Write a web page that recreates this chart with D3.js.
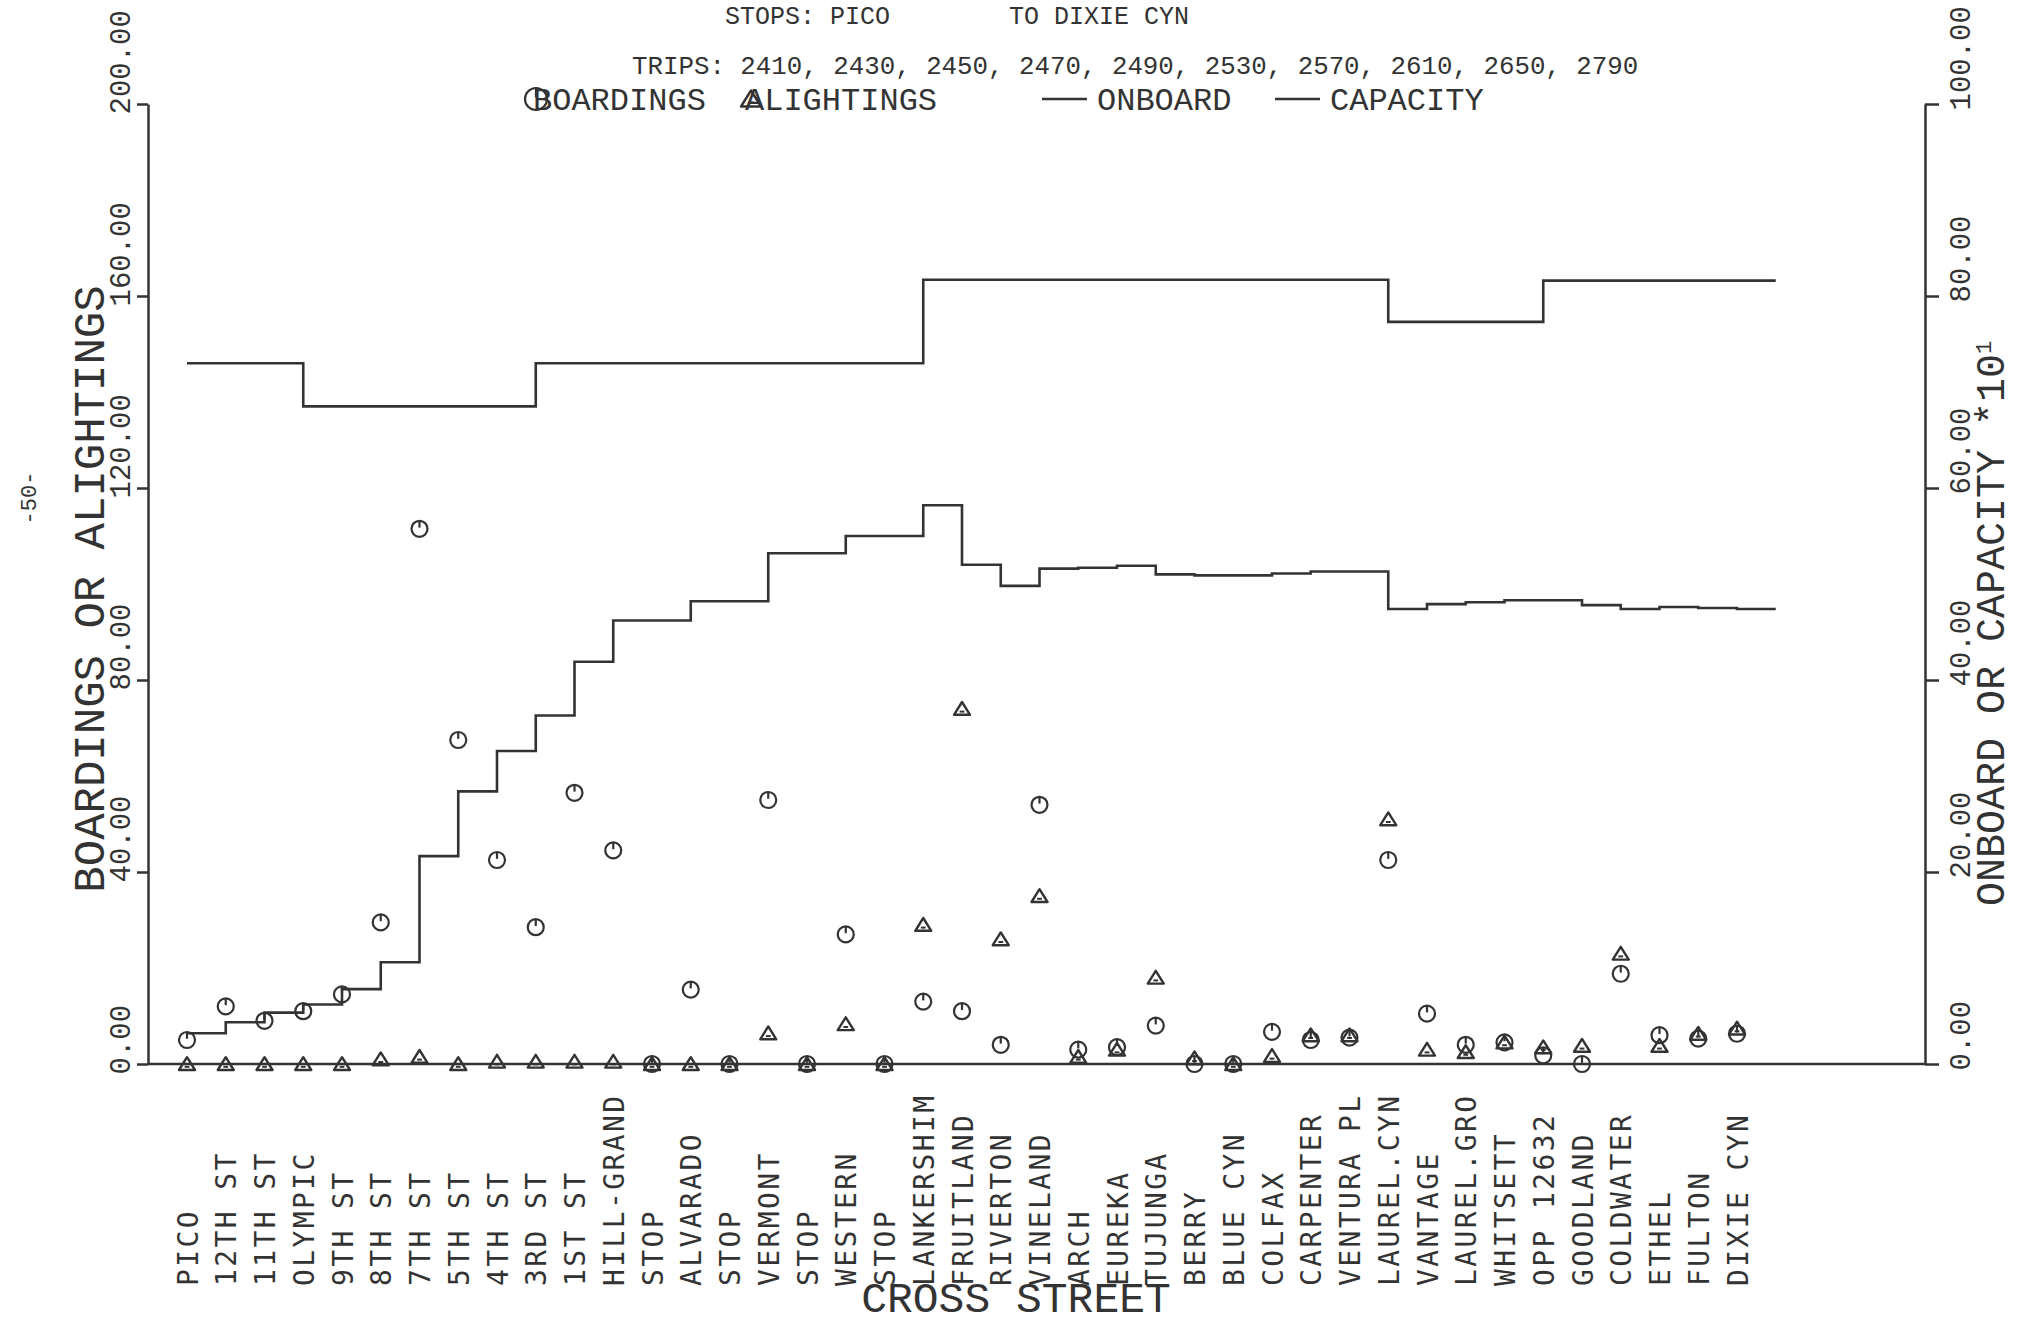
<!DOCTYPE html>
<html>
<head>
<meta charset="utf-8">
<script src="https://cdn.jsdelivr.net/npm/d3@7"></script>
<style>
  body { margin: 0; background: white; }
  svg { display: block; }
</style>
</head>
<body>
<div id="chart-area"></div>
<script>
// stations along the route (cross streets)
var stations = ["PICO", "12TH ST", "11TH ST", "OLYMPIC", "9TH ST", "8TH ST", "7TH ST", "5TH ST",
  "4TH ST", "3RD ST", "1ST ST", "HILL-GRAND", "STOP", "ALVARADO", "STOP", "VERMONT", "STOP",
  "WESTERN", "STOP", "LANKERSHIM", "FRUITLAND", "RIVERTON", "VINELAND", "ARCH", "EUREKA",
  "TUJUNGA", "BERRY", "BLUE CYN", "COLFAX", "CARPENTER", "VENTURA PL", "LAUREL.CYN", "VANTAGE",
  "LAUREL.GRO", "WHITSETT", "OPP 12632", "GOODLAND", "COLDWATER", "ETHEL", "FULTON", "DIXIE CYN"];

// left axis values
var boardings = [5, 12, 9, 11, 14.5, 29.5, 111.5, 67.5, 42.5, 28.5, 56.5, 44.5, 0, 15.5, 0, 55, 0,
  27, 0, 13, 11, 4, 54, 3, 3.5, 8, 0, 0, 6.7, 5, 5.5, 42.5, 10.5, 4, 4.5, 1.8, 0, 18.8, 6, 5.3, 6.3];
var alightings = [0, 0, 0, 0, 0, 1, 1.5, 0, 0.5, 0.5, 0.5, 0.5, 0, 0, 0, 6.4, 0, 8.3, 0, 29, 74, 26,
  35, 1.5, 3, 18, 1.2, 0, 1.7, 6, 6, 51, 3, 2.5, 4.5, 3.5, 3.8, 23, 3.8, 6.3, 7.4];

// right axis values (*10^1)
var onboard = [3.2, 4.35, 5.35, 6.2, 7.8, 10.6, 21.65, 28.4, 32.6, 36.3, 41.9, 46.2, 46.2, 48.2, 48.2,
  53.2, 53.2, 55.0, 55.0, 58.2, 52.0, 49.8, 51.6, 51.7, 51.9, 51.0, 50.9, 50.9, 51.1, 51.3, 51.3,
  47.4, 47.9, 48.1, 48.3, 48.3, 47.8, 47.4, 47.6, 47.5, 47.4];
var capacity = [73, 73, 73, 68.5, 68.5, 68.5, 68.5, 68.5, 68.5, 73, 73, 73, 73, 73, 73, 73, 73, 73, 73,
  81.7, 81.7, 81.7, 81.7, 81.7, 81.7, 81.7, 81.7, 81.7, 81.7, 81.7, 81.7, 77.3, 77.3, 77.3, 77.3,
  81.6, 81.6, 81.6, 81.6, 81.6, 81.6];

var leftTicks = [0, 40, 80, 120, 160, 200];
var rightTicks = [0, 20, 40, 60, 80, 100];
var trips = ["2410", "2430", "2450", "2470", "2490", "2530", "2570", "2610", "2650", "2790"];

var width = 2019, height = 1326;
var ink = "#333";
var plotFont = "'Liberation Mono', monospace";
var labelFont = "'DejaVu Sans Mono', monospace";
var axisLeftX = 148, axisRightX = 1925;

var svg = d3.select("#chart-area").append("svg")
  .attr("width", width)
  .attr("height", height)
  .style("background-color", "white");

var x = d3.scaleLinear().domain([0, stations.length - 1]).range([187, 1737]);
var yLeft = d3.scaleLinear().domain([0, 200]).range([1064, 104]);
var yRight = d3.scaleLinear().domain([0, 100]).range([1064, 104]);

// left axis
var gl = svg.append("g")
  .attr("transform", "translate(" + axisLeftX + ",0)")
  .call(d3.axisLeft(yLeft).tickValues(leftTicks).tickSize(11).tickSizeOuter(0)
    .tickFormat(d3.format(".2f")));
gl.selectAll("text")
  .attr("transform", "rotate(-90)")
  .attr("x", -10).attr("y", -18).attr("dy", 0)
  .attr("text-anchor", "start");

// right axis
var gr = svg.append("g")
  .attr("transform", "translate(" + axisRightX + ",0)")
  .call(d3.axisRight(yRight).tickValues(rightTicks).tickSize(14).tickSizeOuter(0)
    .tickFormat(d3.format(".2f")));
gr.selectAll("text")
  .attr("transform", "rotate(-90)")
  .attr("x", -6).attr("y", 45).attr("dy", 0)
  .attr("text-anchor", "start");

[gl, gr].forEach(function(g) {
  g.selectAll("path, line").attr("stroke", ink).attr("stroke-width", 2.5);
  g.selectAll("text").attr("fill", ink).style("font-family", plotFont).style("font-size", "29px");
});

// bottom baseline + station names
svg.append("line")
  .attr("x1", axisLeftX).attr("x2", axisRightX)
  .attr("y1", yLeft(0)).attr("y2", yLeft(0))
  .attr("stroke", ink).attr("stroke-width", 2.5);

var gx = svg.append("g")
  .attr("transform", "translate(0," + yLeft(0) + ")")
  .call(d3.axisBottom(x).tickValues(d3.range(stations.length)).tickSize(0)
    .tickFormat(function(i) { return stations[i]; }));
gx.select(".domain").remove();
gx.selectAll("text")
  .attr("transform", "rotate(-90)")
  .attr("x", -222).attr("y", 0).attr("dy", "0.36em")
  .attr("text-anchor", "start")
  .attr("fill", ink)
  .style("font-family", labelFont)
  .style("font-size", "28px")
  .style("letter-spacing", "2.4px");

// step lines
var stepLine = function(values, scale) {
  var pts = values.map(function(v, i) { return [x(i), scale(v)]; });
  pts.push([x(values.length), scale(values[values.length - 1])]);
  return d3.line().curve(d3.curveStepAfter)(pts);
};
svg.append("path").attr("d", stepLine(capacity, yRight))
  .attr("fill", "none").attr("stroke", ink).attr("stroke-width", 2.6);
svg.append("path").attr("d", stepLine(onboard, yRight))
  .attr("fill", "none").attr("stroke", ink).attr("stroke-width", 2.6);

// markers
function drawCircle(g, r) {
  g.append("circle").attr("r", r).attr("fill", "none").attr("stroke", ink).attr("stroke-width", 2.2);
  g.append("line").attr("x1", 0).attr("x2", 0).attr("y1", -r).attr("y2", -r * 0.15)
    .attr("stroke", ink).attr("stroke-width", 2.2);
}
function drawTriangle(g, s) {
  g.append("path")
    .attr("d", "M" + (-s) + "," + (s * 0.75) + "L" + s + "," + (s * 0.75) + "L0," + (-s * 0.85) + "Z")
    .attr("fill", "none").attr("stroke", ink).attr("stroke-width", 2.4).attr("stroke-linejoin", "round");
  g.append("line").attr("x1", -s * 0.3).attr("x2", s * 0.3).attr("y1", s * 0.35).attr("y2", s * 0.35)
    .attr("stroke", ink).attr("stroke-width", 2);
}

svg.append("g").selectAll("g.board").data(boardings).enter().append("g")
  .attr("class", "board")
  .attr("transform", function(d, i) { return "translate(" + x(i) + "," + yLeft(d) + ")"; })
  .each(function() { drawCircle(d3.select(this), 8); });

svg.append("g").selectAll("g.alight").data(alightings).enter().append("g")
  .attr("class", "alight")
  .attr("transform", function(d, i) { return "translate(" + x(i) + "," + yLeft(d) + ")"; })
  .each(function() { drawTriangle(d3.select(this), 8); });

// axis titles
svg.append("text")
  .attr("transform", "translate(104," + ((yLeft(0) + yLeft(200)) / 2 + 5) + ") rotate(-90)")
  .attr("text-anchor", "middle")
  .attr("fill", ink)
  .style("font-family", plotFont).style("font-size", "44px")
  .text("BOARDINGS OR ALIGHTINGS");

var rt = svg.append("text")
  .attr("transform", "translate(2004,906) rotate(-90)")
  .attr("text-anchor", "start")
  .attr("fill", ink)
  .style("font-family", plotFont).style("font-size", "40px");
rt.append("tspan").text("ONBOARD OR CAPACITY  *10");
rt.append("tspan").attr("dy", "-0.6em").style("font-size", "22px").text("1");

svg.append("text")
  .attr("x", 1016).attr("y", 1312)
  .attr("text-anchor", "middle")
  .attr("fill", ink)
  .style("font-family", plotFont).style("font-size", "43px")
  .text("CROSS STREET");

svg.append("text")
  .attr("transform", "translate(36,498) rotate(-90)")
  .attr("text-anchor", "middle")
  .attr("fill", ink)
  .style("font-family", plotFont).style("font-size", "22px")
  .text("-50-");

// header
svg.append("text")
  .attr("x", 725).attr("y", 24)
  .attr("fill", ink)
  .style("font-family", plotFont).style("font-size", "25px")
  .text("STOPS: PICO");
svg.append("text")
  .attr("x", 1009).attr("y", 24)
  .attr("fill", ink)
  .style("font-family", plotFont).style("font-size", "25px")
  .text("TO DIXIE CYN");

svg.append("text")
  .attr("x", 632).attr("y", 74)
  .attr("fill", ink)
  .style("font-family", plotFont).style("font-size", "25.8px")
  .text("TRIPS: " + trips.join(", "));

// legend
var leg = svg.append("g").attr("class", "legend");
var legY = 110;
var legendFont = function(t) {
  return t.attr("fill", ink).style("font-family", plotFont).style("font-size", "32px");
};
drawCircle(leg.append("g").attr("transform", "translate(536," + (legY - 11) + ")"), 11);
legendFont(leg.append("text").attr("x", 533).attr("y", legY).text("BOARDINGS"));
drawTriangle(leg.append("g").attr("transform", "translate(751," + (legY - 11) + ")"), 10);
legendFont(leg.append("text").attr("x", 745).attr("y", legY).text("ALIGHTINGS"));
leg.append("line").attr("x1", 1042).attr("x2", 1087).attr("y1", legY - 11).attr("y2", legY - 11)
  .attr("stroke", ink).attr("stroke-width", 2.6);
legendFont(leg.append("text").attr("x", 1097).attr("y", legY).text("ONBOARD"));
leg.append("line").attr("x1", 1275).attr("x2", 1320).attr("y1", legY - 11).attr("y2", legY - 11)
  .attr("stroke", ink).attr("stroke-width", 2.6);
legendFont(leg.append("text").attr("x", 1330).attr("y", legY).text("CAPACITY"));
</script>
</body>
</html>
